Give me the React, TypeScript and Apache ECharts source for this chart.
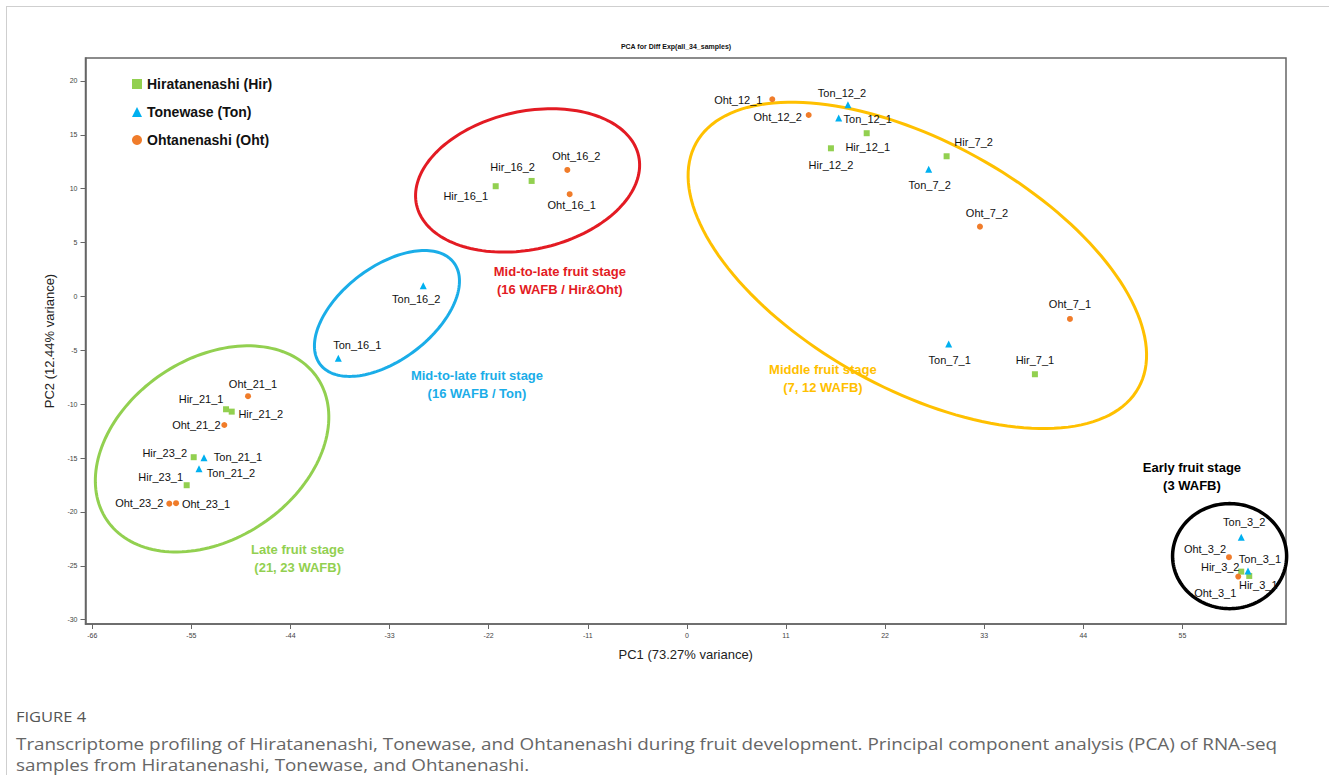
import React, { useEffect, useRef } from "react";
import * as echarts from "echarts";

// ---- sample scores (PC1, PC2) ----
const hirNames = ["Hir_21_1", "Hir_21_2", "Hir_23_2", "Hir_23_1", "Hir_16_1", "Hir_16_2", "Hir_12_1", "Hir_12_2", "Hir_7_2", "Hir_7_1", "Hir_3_2", "Hir_3_1"];
const hirPC1 = [-51.15, -50.52, -54.74, -55.52, -21.22, -17.23, 19.96, 15.99, 28.83, 38.63, 61.53, 62.42];
const hirPC2 = [-10.47, -10.69, -14.92, -17.52, 10.23, 10.72, 15.15, 13.75, 13.01, -7.22, -25.54, -25.94];

const tonNames = ["Ton_21_1", "Ton_21_2", "Ton_16_1", "Ton_16_2", "Ton_12_2", "Ton_12_1", "Ton_7_2", "Ton_7_1", "Ton_3_2", "Ton_3_1"];
const tonPC1 = [-53.6, -54.15, -38.69, -29.26, 17.88, 16.85, 26.84, 29.06, 61.53, 62.28];
const tonPC2 = [-14.96, -15.98, -5.74, 1.0, 17.8, 16.57, 11.8, -4.41, -22.35, -25.48];

const ohtNames = ["Oht_21_1", "Oht_21_2", "Oht_23_2", "Oht_23_1", "Oht_16_2", "Oht_16_1", "Oht_12_1", "Oht_12_2", "Oht_7_2", "Oht_7_1", "Oht_3_2", "Oht_3_1"];
const ohtPC1 = [-48.71, -51.34, -57.45, -56.7, -13.27, -13.01, 9.48, 13.52, 32.53, 42.52, 60.17, 61.2];
const ohtPC2 = [-9.26, -11.93, -19.23, -19.19, 11.74, 9.49, 18.3, 16.84, 6.48, -2.09, -24.2, -26.0];

const seriesNames = ["Hiratanenashi (Hir)", "Tonewase (Ton)", "Ohtanenashi (Oht)"];

// ---- axis ticks ----
const xTicks = [-66, -55, -44, -33, -22, -11, 0, 11, 22, 33, 44, 55];
const yTicks = [-30, -25, -20, -15, -10, -5, 0, 5, 10, 15, 20];

// ---- developmental stage groupings (ellipse centre, semi-axes in PC1 units, tilt in degrees) ----
const stageTitles = ["Late fruit stage", "Mid-to-late fruit stage", "Mid-to-late fruit stage", "Middle fruit stage", "Early fruit stage"];
const stageSubtitles = ["(21, 23 WAFB)", "(16 WAFB / Ton)", "(16 WAFB / Hir&Oht)", "(7, 12 WAFB)", "(3 WAFB)"];
const stageCenterPC1 = [-52.7, -33.29, -17.68, 25.58, 60.24];
const stageCenterPC2 = [-14.15, -1.58, 10.77, 2.88, -24.1];
const stageSemiMajor = [14.1, 9.32, 12.62, 28.06, 6.33];
const stageSemiMinor = [10.0, 5.17, 7.66, 13.72, 5.83];
const stageTilt = [-34, -37.3, -12.4, 28.9, 0];
const stageLabelPC1 = [-43.2, -23.3, -14.1, 15.1, 56.06];
const stageLabelPC2 = [-24.36, -8.17, 1.5, -7.6, -16.75];

// ---- caption ----
const captionLabel = "FIGURE 4";
const captionLines = [
  "Transcriptome profiling of Hiratanenashi, Tonewase, and Ohtanenashi during fruit development. Principal component analysis (PCA) of RNA-seq",
  "samples from Hiratanenashi, Tonewase, and Ohtanenashi.",
];

// ---- styling ----
const markerColors = ["#92D050", "#00B0F0", "#F07C2A"];
const markerShapes = ["rect", "triangle", "circle"];
const markerSizes = [6, 7, 6];
const stageColors = ["#92D050", "#1AADE8", "#E31B23", "#FFC000", "#000000"];
const FONT = '"Liberation Sans", Arial, Helvetica, sans-serif';
const CAPTION_FONT = '"Open Sans", sans-serif';

// label placement relative to each marker, in pixels
const labelNudge: Record<string, [number, number]> = {
  Oht_21_1: [5, -12], Hir_21_1: [-25, -10], Hir_21_2: [29, 2], Oht_21_2: [-28, 0],
  Hir_23_2: [-29, -4], Ton_21_1: [34, -1], Ton_21_2: [32, 4], Hir_23_1: [-26, -8],
  Oht_23_2: [-30, -1], Oht_23_1: [30, 1],
  Oht_16_2: [9, -14], Hir_16_2: [-19, -14], Hir_16_1: [-30, 10], Oht_16_1: [2, 11],
  Ton_16_2: [-7, 13], Ton_16_1: [19, -13],
  Oht_12_1: [-34, 1], Ton_12_2: [-6, -12], Oht_12_2: [-31, 2], Ton_12_1: [29, 1],
  Hir_12_1: [1, 14], Hir_12_2: [0, 17], Hir_7_2: [27, -14], Ton_7_2: [1, 16],
  Oht_7_2: [7, -14], Oht_7_1: [0, -15], Ton_7_1: [1, 16], Hir_7_1: [0, -14],
  Ton_3_2: [3, -15], Oht_3_2: [-24, -8], Ton_3_1: [12, -12], Hir_3_2: [-21, -5],
  Oht_3_1: [-23, 16], Hir_3_1: [9, 9],
};

function buildPoints(names: string[], xs: number[], ys: number[]) {
  return names.map((n, i) => ({
    name: n,
    value: [xs[i], ys[i]],
    label: { offset: labelNudge[n] || [0, -12] },
  }));
}

export default function App() {
  const ref = useRef<HTMLDivElement>(null);

  useEffect(() => {
    document.body.style.margin = "0";
    if (!ref.current) return;
    const chart = echarts.init(ref.current, null, { renderer: "svg" });

    const groups = [
      buildPoints(hirNames, hirPC1, hirPC2),
      buildPoints(tonNames, tonPC1, tonPC2),
      buildPoints(ohtNames, ohtPC1, ohtPC2),
    ];

    const scatterSeries = groups.map((data, k) => ({
      type: "scatter",
      name: seriesNames[k],
      data,
      symbol: markerShapes[k],
      symbolSize: markerSizes[k],
      itemStyle: { color: markerColors[k], opacity: 1 },
      z: 5,
      label: {
        show: true,
        position: "inside",
        formatter: "{b}",
        color: "#111",
        fontSize: 11,
        fontFamily: FONT,
      },
      emphasis: { disabled: true },
    }));

    const stageData = stageTitles.map((_, i) => [
      stageCenterPC1[i], stageCenterPC2[i], stageSemiMajor[i], stageSemiMinor[i], stageTilt[i],
      stageLabelPC1[i], stageLabelPC2[i],
    ]);

    const stageSeries = {
      type: "custom",
      name: "stages",
      clip: false,
      silent: true,
      z: 3,
      data: stageData,
      renderItem: (params: any, api: any) => {
        const i = params.dataIndex;
        const c = api.coord([api.value(0), api.value(1)]);
        const unit = api.size([1, 0])[0];
        const a = api.value(2) * unit;
        const b = api.value(3) * unit;
        const ang = (api.value(4) * Math.PI) / 180;
        const pts: number[][] = [];
        const N = 160;
        for (let s = 0; s < N; s++) {
          const t = (s / N) * Math.PI * 2;
          const ex = a * Math.cos(t);
          const ey = b * Math.sin(t);
          pts.push([
            c[0] + ex * Math.cos(ang) - ey * Math.sin(ang),
            c[1] + ex * Math.sin(ang) + ey * Math.cos(ang),
          ]);
        }
        const lp = api.coord([api.value(5), api.value(6)]);
        return {
          type: "group",
          children: [
            {
              type: "polygon",
              shape: { points: pts },
              style: { fill: "none", stroke: stageColors[i], lineWidth: i === 4 ? 3.5 : 3 },
            },
            {
              type: "text",
              x: lp[0],
              y: lp[1],
              z2: 10,
              style: {
                text: stageTitles[i] + "\n" + stageSubtitles[i],
                fill: stageColors[i],
                fontSize: 13,
                fontWeight: "bold",
                fontFamily: FONT,
                align: "center",
                verticalAlign: "middle",
                lineHeight: 18,
              },
            },
          ],
        };
      },
    };

    const option: any = {
      animation: false,
      backgroundColor: "#ffffff",
      title: {
        text: "PCA for Diff Exp(all_34_samples)",
        left: 671,
        top: 38,
        textAlign: "center",
        textStyle: { fontSize: 7, fontWeight: "bold", color: "#111", fontFamily: FONT },
      },
      legend: {
        orient: "vertical",
        left: 127,
        top: 72,
        itemWidth: 10,
        itemHeight: 10,
        itemGap: 14,
        data: seriesNames,
        selectedMode: false,
        textStyle: { fontSize: 14, fontWeight: "bold", color: "#111", fontFamily: FONT },
      },
      grid: { left: 85.5, right: 43, top: 58, bottom: 151, show: true, borderColor: "#666", borderWidth: 1.5 },
      xAxis: {
        type: "value",
        min: -66.75,
        max: 66.5,
        name: "PC1 (73.27% variance)",
        nameLocation: "middle",
        nameGap: 24,
        nameTextStyle: { fontSize: 13, color: "#222", fontFamily: FONT },
        axisLine: { show: true, onZero: false, lineStyle: { color: "#666", width: 1.5 } },
        axisTick: { show: true, customValues: xTicks, length: 5, lineStyle: { color: "#666" } },
        axisLabel: { customValues: xTicks, fontSize: 7, color: "#444", margin: 8, fontFamily: FONT },
        splitLine: { show: false },
      },
      yAxis: {
        type: "value",
        min: -30.4,
        max: 22.13,
        name: "PC2 (12.44% variance)",
        nameLocation: "middle",
        nameGap: 28,
        nameTextStyle: { fontSize: 13, color: "#222", fontFamily: FONT },
        axisLine: { show: true, onZero: false, lineStyle: { color: "#666", width: 1.5 } },
        axisTick: { show: true, customValues: yTicks, length: 5, lineStyle: { color: "#666" } },
        axisLabel: { customValues: yTicks, fontSize: 7, color: "#444", margin: 8, fontFamily: FONT },
        splitLine: { show: false },
      },
      graphic: [
        { type: "line", shape: { x1: 6, y1: 6.5, x2: 1329, y2: 6.5 }, style: { stroke: "#cfcfcf", lineWidth: 1 } },
        { type: "line", shape: { x1: 6.5, y1: 6, x2: 6.5, y2: 775 }, style: { stroke: "#cfcfcf", lineWidth: 1 } },
        {
          type: "text",
          x: 16,
          y: 716,
          scaleX: 1.1,
          style: { text: captionLabel, fontSize: 15, fill: "#555", fontFamily: CAPTION_FONT, verticalAlign: "middle" },
        },
        {
          type: "text",
          x: 16,
          y: 743,
          scaleX: 1.11,
          style: { text: captionLines[0], fontSize: 17, fill: "#666", fontFamily: CAPTION_FONT, verticalAlign: "middle" },
        },
        {
          type: "text",
          x: 16,
          y: 764,
          scaleX: 1.11,
          style: { text: captionLines[1], fontSize: 17, fill: "#666", fontFamily: CAPTION_FONT, verticalAlign: "middle" },
        },
      ],
      series: [stageSeries, ...scatterSeries],
    };

    chart.setOption(option);
    return () => chart.dispose();
  }, []);

  return <div ref={ref} style={{ position: "absolute", left: 0, top: 0, width: 1329, height: 775 }} />;
}
